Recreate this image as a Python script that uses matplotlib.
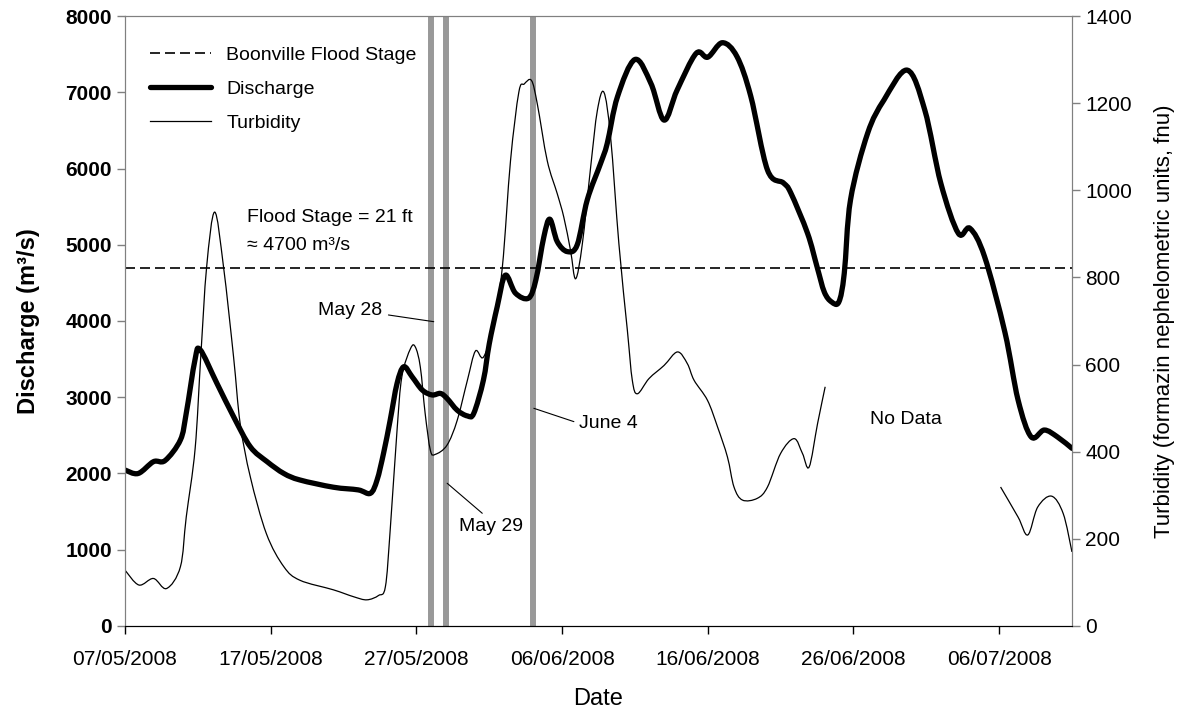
import matplotlib

matplotlib.use("Agg")

import matplotlib.dates as mdates
import matplotlib.pyplot as plt
import numpy as np
import pandas as pd
from matplotlib.lines import Line2D
from matplotlib.patches import PathPatch
from matplotlib.path import Path

plt.rcParams["font.family"] = ["Liberation Sans", "DejaVu Sans"]

START = pd.Timestamp("2008-05-07")
END = pd.Timestamp("2008-07-11")

# days since 07/05/2008 and discharge (m3/s)
discharge_days = [
    0.0, 0.9, 1.95, 2.75, 3.8, 4.2, 4.8, 5.15, 6.3, 7.45, 8.6, 9.75, 10.9, 12.0,
    14.3, 16.0, 16.84, 17.3, 17.75, 18.2, 18.67, 19.13, 19.7, 20.4, 21.08, 21.65,
    22.1, 22.8, 23.5, 23.94, 24.6, 25.0, 25.55, 26.1, 26.8, 27.7, 28.2, 28.75,
    29.16, 29.67, 30.36, 31.04, 31.73, 32.65, 33.1, 33.8, 35.0, 36.1, 37.0, 37.9,
    39.2, 40.0, 41.0, 42.0, 42.95, 44.1, 45.2, 45.7, 46.85, 47.5, 48.0, 48.5,
    49.0, 49.37, 49.8, 50.97, 52.1, 53.7, 54.9, 56.0, 57.2, 58.0, 59.0, 60.4,
    61.3, 62.2, 63.1, 64.0, 65.0,
]
discharge = [
    2045, 2000, 2155, 2170, 2440, 2790, 3490, 3625, 3185, 2745, 2350, 2155, 2000, 1915,
    1820, 1785, 1740, 1915, 2270, 2700, 3180, 3400, 3270, 3095, 3030, 3050,
    2985, 2830, 2755, 2790, 3225, 3700, 4190, 4600, 4365, 4300, 4540, 5105,
    5335, 5040, 4910, 5000, 5590, 6070, 6330, 6940, 7430, 7115, 6635, 7030,
    7510, 7460, 7650, 7470, 6950, 5980, 5810, 5680, 5150, 4712, 4380, 4250,
    4250, 4625, 5590, 6460, 6900, 7290, 6765, 5805, 5150, 5215, 4845, 3850,
    2965, 2480, 2570, 2480, 2330,
]

# turbidity (fnu), two recorded stretches with a gap between them
turb_days_a = [
    0.0, 0.95, 1.95, 2.85, 3.8, 4.2, 4.81, 5.2, 5.6, 6.15, 6.76, 7.45, 7.9, 8.6,
    9.7, 10.9, 12.0, 14.3, 15.7, 16.6, 17.4, 17.87, 18.2, 18.67, 19.0, 19.6,
    19.93, 20.27, 20.6, 20.96, 21.3, 22.1, 22.8, 23.5, 24.05, 24.6, 25.3, 25.9,
    26.46, 27.03, 27.4, 27.9, 28.3, 28.98, 29.67, 30.12, 30.58, 30.93, 31.39, 31.96,
    32.42, 32.87, 33.33, 33.9, 34.48, 34.82, 35.17, 35.97, 37.0, 37.92, 38.6, 39.06,
    39.98, 40.67, 41.35, 41.8, 42.38, 43.4, 44.1, 45.0, 45.93, 46.5, 46.96, 47.54,
    48.06,
]
turbidity_a = [
    128, 94, 109, 86, 136, 250, 407, 620, 824, 950, 824, 617, 465, 342,
    212, 136, 105, 83, 67, 60, 70, 90, 220, 449, 572, 637,
    640, 594, 488, 403, 394, 415, 472, 564, 631, 617, 690, 824,
    1068, 1225, 1244, 1252, 1198, 1068, 992, 938, 862, 797, 877, 1053,
    1183, 1225, 1122, 877, 679, 564, 533, 568, 598, 629, 602, 564,
    518, 457, 388, 319, 289, 293, 319, 396, 430, 396, 365, 465,
    549,
]
turb_days_b = [60.1, 61.3, 61.97, 62.65, 63.6, 64.4, 65.0]
turbidity_b = [319, 250, 209, 273, 298, 258, 170]

flood_stage = 4700
event_dates = ["2008-05-28", "2008-05-29", "2008-06-04"]


def to_dates(days):
    return START + pd.to_timedelta(np.asarray(days, dtype=float), unit="D")


def smoothed(days, values, **kw):
    """Excel-like smoothed line: cubic Bezier segments through the points."""
    pts = np.column_stack([mdates.date2num(to_dates(days)), np.asarray(values, float)])
    n = len(pts)
    verts = [pts[0]]
    codes = [Path.MOVETO]
    for i in range(n - 1):
        p0 = pts[i - 1] if i > 0 else pts[i]
        p1, p2 = pts[i], pts[i + 1]
        p3 = pts[i + 2] if i + 2 < n else pts[i + 1]
        verts += [p1 + (p2 - p0) / 6, p2 - (p3 - p1) / 6, p2]
        codes += [Path.CURVE4] * 3
    return PathPatch(Path(verts, codes), fill=False, **kw)


def at(days):
    return START + pd.Timedelta(days=days)


fig = plt.figure(figsize=(11.82, 7.09), dpi=100)
ax = fig.add_axes([0.1058, 0.1171, 0.8011, 0.8603])
ax2 = ax.twinx()

for d in event_dates:
    ax.axvline(pd.Timestamp(d), color="#999999", lw=4.3, zorder=1)

ax.axhline(flood_stage, color="black", lw=1.2, dashes=(6, 3), zorder=2)
ax.add_patch(smoothed(discharge_days, discharge, edgecolor="black", lw=3.8,
                      capstyle="round", joinstyle="round", zorder=3))
ax2.add_patch(smoothed(turb_days_a, turbidity_a, edgecolor="black", lw=0.9))
ax2.add_patch(smoothed(turb_days_b, turbidity_b, edgecolor="black", lw=0.9))

ax.set_xlim(START, END)
ax.set_ylim(0, 8000)
ax2.set_ylim(0, 1400)
ax.set_yticks(np.arange(0, 8001, 1000))
ax2.set_yticks(np.arange(0, 1401, 200))
ax.set_xticks(pd.date_range(START, END, freq="10D"))
ax.xaxis.set_major_formatter(mdates.DateFormatter("%d/%m/%Y"))

for a in (ax, ax2):
    for side in ("left", "right", "top"):
        a.spines[side].set_color("#808080")
    a.spines["bottom"].set_color("black")
ax.tick_params(axis="x", direction="out", length=6, width=1, colors="black",
               labelsize=15, pad=11)
ax.tick_params(axis="y", direction="out", length=6, width=1, color="#808080",
               labelcolor="black", labelsize=15)
ax2.tick_params(axis="y", direction="out", length=6, width=1, color="#808080",
                labelcolor="black", labelsize=15)
for lbl in ax.get_yticklabels():
    lbl.set_fontweight("bold")

ax.set_xlabel("Date", fontsize=17, labelpad=14)
ax.set_ylabel("Discharge (m³/s)", fontsize=17, fontweight="bold", labelpad=18)
ax2.set_ylabel("Turbidity (formazin nephelometric units, fnu)", fontsize=16, labelpad=16)

ax.text(at(8.38), 5360, "Flood Stage = 21 ft", fontsize=14, va="center")
ax.text(at(8.38), 4990, "≈ 4700 m³/s", fontsize=14, va="center")

leader = dict(arrowstyle="-", color="black", lw=0.8, shrinkA=0, shrinkB=0)
ax.annotate("", xy=(at(21.19), 3991), xytext=(at(18.08), 4079), arrowprops=leader)
ax.text(at(17.66), 4144, "May 28", fontsize=14, ha="right", va="center")
ax.annotate("", xy=(at(24.52), 1478), xytext=(at(22.11), 1872), arrowprops=leader)
ax.text(at(22.89), 1302, "May 29", fontsize=14, ha="left", va="center")
ax.annotate("", xy=(at(30.81), 2680), xytext=(at(28.06), 2855), arrowprops=leader)
ax.text(at(31.13), 2662, "June 4", fontsize=14, ha="left", va="center")
ax.text(at(51.13), 2702, "No Data", fontsize=14, ha="left", va="center")

handles = [
    Line2D([], [], color="black", lw=1.2, dashes=(6, 3)),
    Line2D([], [], color="black", lw=3.8, solid_capstyle="round"),
    Line2D([], [], color="black", lw=0.9),
]
ax2.legend(handles, ["Boonville Flood Stage", "Discharge", "Turbidity"],
           loc="upper left", bbox_to_anchor=(0.0, 0.992), frameon=False,
           fontsize=14, handlelength=3.1, handletextpad=0.8, labelspacing=0.85,
           borderaxespad=0.9)

fig.savefig("out.png", dpi=100)
